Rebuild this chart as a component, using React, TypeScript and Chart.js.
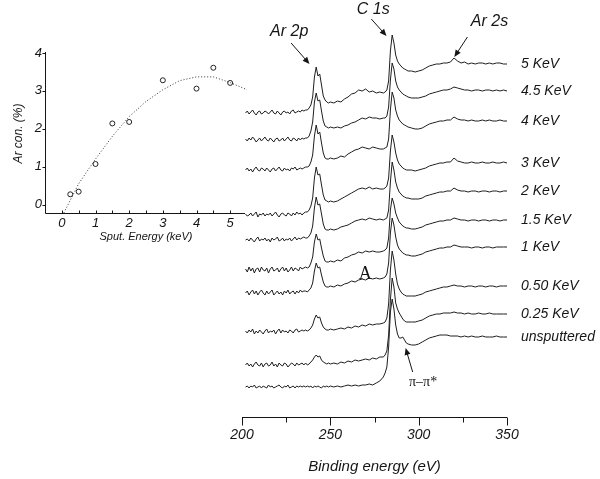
import React, { useEffect, useRef } from 'react';
import { Chart, registerables } from 'chart.js';

Chart.register(...registerables);

// ---------- main panel: XPS spectra (binding energy, eV) ----------
const bindingEnergy = [
  202, 203, 204, 205, 206, 207, 208, 209, 210, 211, 212, 213, 214, 215, 216, 217, 218, 219,
  220, 221, 222, 223, 224, 225, 226, 227, 228, 229, 230, 231, 232, 233, 234, 235, 236,
  237, 238, 239, 240, 241, 242, 243, 244, 245, 246, 247, 248, 249, 250,
  252, 254, 256, 258, 260, 262, 264, 266, 268, 270, 272, 274, 276, 278, 280,
  281, 282, 283, 284, 285, 286, 287, 288, 289, 290, 291, 292, 293, 294,
  296, 298, 300, 302, 304, 306, 308, 310, 312, 314, 316, 318, 320, 322, 324, 326, 328, 330,
  332, 334, 336, 338, 340, 342, 344, 346, 348, 350,
];

// intensities (arb. units) relative to each spectrum's own low-energy baseline
const spec5keV = [
  0, 2, -1, 1, 3, 0, -2, 1, 2, -1, 0, 2, 1, -1, 1, 3, 0, -1, 2, 0, -2, 1, 2, 0, 1, -1, 2, 3, 0, 1, 2, 1, 3, 2, 3,
  3, 5, 8, 16, 36, 46, 37, 39, 28, 17, 13, 11, 10, 11,
  10, 12, 11, 14, 16, 19, 20, 23, 22, 24, 21, 22, 20, 21, 20,
  21, 23, 32, 62, 78, 70, 58, 52, 49, 47, 45, 44, 43, 42,
  42, 41, 42, 43, 45, 47, 48, 49, 49, 50, 50, 51, 55, 52, 50, 51, 49, 50, 49, 50, 50, 49, 50, 49, 50, 50, 49, 49,
];
const spec4_5keV = [
  1, -1, 2, 0, 3, 1, -2, 0, 2, -1, 1, 3, 0, -1, 2, 0, -2, 1, 2, -1, 0, 2, -1, 1, 3, 0, -1, 2, 1, -1, 2, 0, 2, 1, 2,
  2, 4, 9, 18, 38, 47, 39, 40, 29, 19, 14, 13, 12, 13,
  12, 13, 12, 14, 15, 17, 18, 20, 22, 21, 23, 22, 22, 21, 22,
  22, 24, 33, 60, 77, 71, 59, 53, 50, 48, 46, 45, 44, 43,
  42, 42, 42, 43, 44, 46, 47, 48, 49, 50, 50, 51, 53, 52, 51, 50, 50, 49, 50, 50, 49, 50, 50, 49, 50, 49, 50, 49,
];
const spec4keV = [
  0, 2, -1, 1, -2, 1, 3, 0, -1, 2, 1, -1, 2, 0, -2, 1, 2, -1, 1, 3, 0, -1, 2, 0, 1, -1, 2, 1, 3, 0, 1, 2, 1, 2, 3,
  3, 4, 8, 15, 34, 45, 36, 38, 27, 17, 12, 11, 11, 12,
  11, 12, 14, 13, 16, 18, 20, 21, 23, 22, 21, 23, 22, 21, 21,
  22, 23, 31, 60, 78, 72, 60, 54, 50, 48, 46, 45, 44, 43,
  42, 41, 41, 42, 44, 46, 47, 48, 49, 49, 50, 50, 53, 51, 50, 50, 49, 50, 49, 49, 50, 49, 50, 49, 49, 50, 49, 49,
];
const spec3keV = [
  1, -1, 0, 2, -1, 1, 3, -2, 1, 0, 2, -1, 1, 0, 2, -1, 1, 3, 0, -2, 1, 2, 0, -1, 2, 1, -1, 2, 0, 3, 1, 2, 0, 2, 3,
  3, 5, 9, 17, 37, 48, 40, 41, 30, 20, 15, 14, 13, 14,
  13, 14, 16, 18, 20, 22, 24, 26, 27, 26, 28, 26, 27, 26, 26,
  27, 29, 37, 64, 80, 73, 62, 55, 51, 49, 47, 46, 45, 45,
  45, 44, 45, 46, 47, 49, 50, 51, 52, 52, 53, 53, 57, 54, 53, 52, 52, 53, 52, 52, 53, 52, 52, 53, 52, 52, 53, 52,
];
const spec2keV = [
  0, 1, -1, 2, 0, -2, 1, 3, -1, 1, 0, 2, -1, 1, -2, 2, 0, 1, 3, -1, 0, 2, -1, 1, 0, 2, -1, 1, 3, 0, 2, 1, 2, 3, 2,
  2, 4, 7, 14, 32, 43, 35, 36, 26, 16, 11, 10, 10, 11,
  10, 11, 13, 14, 15, 17, 19, 20, 21, 20, 22, 21, 20, 21, 20,
  21, 22, 30, 58, 78, 70, 58, 52, 48, 46, 44, 43, 42, 42,
  41, 41, 41, 42, 44, 45, 46, 47, 48, 48, 49, 49, 52, 50, 49, 49, 48, 49, 49, 48, 49, 49, 48, 49, 49, 48, 49, 49,
];
const spec1_5keV = [
  1, -2, 3, -1, 2, -3, 1, 2, -2, 3, 0, -1, 2, -3, 1, 3, -1, 0, 2, -2, 1, 3, -1, 2, -2, 0, 3, -1, 2, 1, -1, 3, 1, 2, 3,
  2, 3, 7, 13, 28, 36, 30, 31, 22, 14, 9, 8, 8, 9,
  8, 10, 9, 12, 13, 15, 16, 18, 17, 19, 18, 19, 18, 18, 19,
  20, 22, 32, 60, 72, 66, 57, 52, 48, 46, 44, 43, 42, 42,
  41, 41, 42, 43, 45, 46, 47, 48, 49, 49, 50, 50, 52, 51, 50, 50, 49, 50, 50, 49, 50, 50, 49, 50, 50, 49, 50, 50,
];
const spec1keV = [
  0, 2, -2, 1, 3, -1, 2, -2, 1, 3, 0, -2, 2, -1, 1, 3, -2, 0, 2, -1, 1, -2, 2, 0, 3, -1, 1, 2, -1, 2, 0, 3, 1, 2, 2,
  1, 3, 5, 10, 22, 30, 25, 26, 18, 11, 7, 6, 6, 7,
  6, 8, 7, 9, 10, 12, 11, 13, 14, 13, 15, 14, 15, 14, 15,
  16, 19, 30, 60, 75, 68, 56, 48, 44, 42, 40, 39, 38, 38,
  37, 37, 38, 39, 41, 42, 43, 44, 45, 45, 46, 46, 48, 47, 46, 46, 46, 45, 46, 46, 45, 46, 46, 45, 46, 46, 46, 46,
];
const spec0_50keV = [
  1, -1, 2, 0, 3, -2, 1, -1, 2, 0, -2, 1, 3, -1, 1, 0, 2, -2, 1, 3, -1, 2, 0, 1, -1, 2, 1, -1, 2, 3, 0, 1, 2, 1, 2,
  1, 2, 4, 7, 13, 17, 14, 15, 9, 5, 3, 2, 2, 3,
  2, 3, 4, 3, 5, 4, 6, 5, 7, 6, 8, 7, 8, 8, 9,
  10, 14, 28, 62, 81, 72, 58, 48, 43, 40, 38, 37, 36, 36,
  36, 36, 37, 38, 40, 41, 42, 43, 44, 45, 45, 46, 47, 46, 46, 45, 46, 46, 45, 46, 46, 45, 46, 46, 45, 46, 46, 46,
];
const spec0_25keV = [
  0, 2, -1, 1, -2, 1, 3, 0, -1, 2, -2, 1, 2, -1, 0, 3, -1, 1, -2, 2, 0, -1, 2, 1, -2, 0, 2, 1, -1, 2, 0, 1, 2, 0, 2,
  0, 1, 3, 5, 8, 10, 8, 9, 5, 3, 2, 1, 2, 1,
  2, 1, 3, 2, 4, 3, 5, 4, 5, 6, 5, 7, 6, 8, 8,
  10, 14, 30, 65, 87, 78, 62, 56, 52, 49, 46, 44, 43, 43,
  43, 43, 44, 45, 47, 49, 50, 51, 51, 52, 52, 52, 53, 52, 52, 51, 52, 51, 51, 52, 51, 51, 52, 51, 51, 51, 51, 51,
];
const specUnsputtered = [
  0, 1, -1, 1, 0, 2, -1, 0, 1, -1, 1, 0, -1, 2, 0, 1, -1, 0, 1, 2, 0, -1, 1, 0, 2, -1, 0, 1, -1, 1, 0, 1, 0, 1, 0,
  1, 0, 1, -1, 1, 0, 1, 0, -1, 1, 0, 1, 0, 1,
  0, 1, 0, 1, 2, 1, 2, 1, 2, 2, 3, 2, 4, 6, 10,
  14, 20, 40, 75, 88, 78, 62, 53, 49, 49, 50, 47, 44, 43,
  42, 42, 43, 45, 47, 49, 50, 51, 52, 52, 52, 51, 51, 51, 50, 51, 50, 51, 50, 50, 51, 50, 50, 50, 51, 50, 50, 50,
];

const spectra = [
  spec5keV, spec4_5keV, spec4keV, spec3keV, spec2keV,
  spec1_5keV, spec1keV, spec0_50keV, spec0_25keV, specUnsputtered,
];
const stackOffsets = [304, 277, 247, 202, 177, 147, 124, 85, 52, 30];
const sampleLabels = [
  '5 KeV', '4.5 KeV', '4 KeV', '3 KeV', '2 KeV',
  '1.5 KeV', '1 KeV', '0.50 KeV', '0.25 KeV', 'unsputtered',
];
const energyTicks = [200, 250, 300, 350];
const energyMinorStep = 25;

// ---------- inset: Ar concentration vs sputtering energy ----------
const sputEnergy = [0.25, 0.5, 1, 1.5, 2, 3, 4, 4.5, 5];
const arContent = [0.27, 0.34, 1.07, 2.14, 2.18, 3.28, 3.06, 3.61, 3.21];
const fitEnergy = [0.06, 0.5, 1, 1.5, 2, 2.5, 3, 3.5, 4, 4.5, 5, 5.5];
const fitContent = [-0.22, 0.55, 1.2, 1.8, 2.32, 2.72, 3.03, 3.27, 3.37, 3.37, 3.22, 3.03];
const insetXTicks = [0, 1, 2, 3, 4, 5];
const insetYTicks = [0, 1, 2, 3, 4];

const SANS = "'Liberation Sans', Arial, Helvetica, sans-serif";
const SERIF = "'Liberation Serif', 'Times New Roman', serif";
const INK = '#151515';

type Note = { text: string; font: string; tx: number; ty: number; arrow?: [number, number, number, number] };
// annotation anchors in data coordinates (eV, stacked intensity)
const notes: Note[] = [
  { text: 'Ar 2p', font: `italic 16px ${SANS}`, tx: 226.7, ty: 385, arrow: [227.8, 374, 238.2, 353] },
  { text: 'C 1s', font: `italic 16px ${SANS}`, tx: 274.3, ty: 407, arrow: [273.2, 398, 281.8, 381] },
  { text: 'Ar 2s', font: `italic 16px ${SANS}`, tx: 340.1, ty: 395, arrow: [327.6, 380, 320.2, 360] },
  { text: 'A', font: `18px ${SERIF}`, tx: 269.8, ty: 143 },
  { text: 'π–π*', font: `14px ${SERIF}`, tx: 302.5, ty: 35, arrow: [296.6, 45, 292.6, 69] },
];

function drawArrow(ctx: CanvasRenderingContext2D, x1: number, y1: number, x2: number, y2: number) {
  const a = Math.atan2(y2 - y1, x2 - x1);
  const L = 7, W = 3;
  ctx.beginPath();
  ctx.moveTo(x1, y1);
  ctx.lineTo(x2 - (L - 1) * Math.cos(a), y2 - (L - 1) * Math.sin(a));
  ctx.stroke();
  ctx.beginPath();
  ctx.moveTo(x2, y2);
  ctx.lineTo(x2 - L * Math.cos(a) + W * Math.sin(a), y2 - L * Math.sin(a) - W * Math.cos(a));
  ctx.lineTo(x2 - L * Math.cos(a) - W * Math.sin(a), y2 - L * Math.sin(a) + W * Math.cos(a));
  ctx.closePath();
  ctx.fill();
}

const mainDecor = {
  id: 'mainDecor',
  afterDraw(chart: any) {
    const { ctx, chartArea, scales } = chart;
    const x = scales.x, y = scales.y;
    ctx.save();
    ctx.strokeStyle = INK;
    ctx.fillStyle = INK;
    ctx.lineWidth = 1;
    // axis line + ticks
    const ay = Math.round(chartArea.bottom) + 0.5;
    const x0 = x.getPixelForValue(energyTicks[0]);
    const x1 = x.getPixelForValue(energyTicks[energyTicks.length - 1]);
    ctx.beginPath();
    ctx.moveTo(x0, ay);
    ctx.lineTo(x1, ay);
    for (let e = energyTicks[0]; e <= energyTicks[energyTicks.length - 1]; e += energyMinorStep) {
      const px = Math.round(x.getPixelForValue(e)) + 0.5;
      const len = energyTicks.includes(e) ? 8 : 5;
      ctx.moveTo(px, ay);
      ctx.lineTo(px, ay + len);
    }
    ctx.stroke();
    // sample labels at right end of each trace
    ctx.font = `italic 14px ${SANS}`;
    ctx.textAlign = 'left';
    ctx.textBaseline = 'middle';
    spectra.forEach((s, i) => {
      const py = y.getPixelForValue(stackOffsets[i] + s[s.length - 1]);
      ctx.fillText(sampleLabels[i], chartArea.right + 14, py);
    });
    // peak annotations
    ctx.textAlign = 'center';
    notes.forEach((n) => {
      ctx.font = n.font;
      ctx.fillText(n.text, x.getPixelForValue(n.tx), y.getPixelForValue(n.ty));
      if (n.arrow) {
        const [ax1, ay1, ax2, ay2] = n.arrow;
        drawArrow(ctx, x.getPixelForValue(ax1), y.getPixelForValue(ay1), x.getPixelForValue(ax2), y.getPixelForValue(ay2));
      }
    });
    ctx.restore();
  },
};

const insetDecor = {
  id: 'insetDecor',
  afterDraw(chart: any) {
    const { ctx, chartArea, scales } = chart;
    const x = scales.x, y = scales.y;
    ctx.save();
    ctx.strokeStyle = INK;
    ctx.lineWidth = 1;
    const lx = Math.round(chartArea.left) + 0.5;
    const by = Math.round(chartArea.bottom) - 0.5;
    ctx.beginPath();
    ctx.moveTo(lx, chartArea.top - 1);
    ctx.lineTo(lx, by);
    ctx.lineTo(chartArea.right - 2, by);
    insetYTicks.forEach((v) => {
      const py = Math.round(y.getPixelForValue(v)) + 0.5;
      ctx.moveTo(lx, py);
      ctx.lineTo(lx - 3, py);
    });
    for (let k = 0; k <= 10; k++) {
      const px = Math.round(x.getPixelForValue(k * 0.5)) + 0.5;
      ctx.moveTo(px, by);
      ctx.lineTo(px, by - 3);
    }
    ctx.stroke();
    ctx.restore();
  },
};

export default function App() {
  const mainRef = useRef<HTMLCanvasElement>(null);
  const insetRef = useRef<HTMLCanvasElement>(null);

  useEffect(() => {
    const tickFont = (size: number) => ({ family: SANS, size, style: 'italic' as const });

    const main = new Chart(mainRef.current as HTMLCanvasElement, {
      type: 'line',
      data: {
        datasets: spectra.map((s, i) => ({
          data: s.map((v, j) => ({ x: bindingEnergy[j], y: stackOffsets[i] + v })),
          borderColor: '#1e1e1e',
          borderWidth: 1,
          pointRadius: 0,
          tension: 0,
          fill: false,
        })),
      },
      options: {
        animation: false,
        responsive: false,
        devicePixelRatio: 1,
        events: [],
        layout: { padding: { left: 242, right: 93, top: 17, bottom: 0 } },
        plugins: { legend: { display: false }, tooltip: { enabled: false } },
        scales: {
          x: {
            type: 'linear',
            min: 200,
            max: 350,
            afterFit: (s: any) => { s.height = 62; },
            afterBuildTicks: (s: any) => { s.ticks = energyTicks.map((v) => ({ value: v })); },
            grid: { display: false, drawTicks: false, tickLength: 0 },
            border: { display: false },
            ticks: { padding: 10, maxRotation: 0, autoSkip: false, color: INK, font: tickFont(14) },
            title: {
              display: true,
              text: 'Binding energy (eV)',
              color: INK,
              font: { family: SANS, size: 15, style: 'italic' },
              padding: { top: 0, bottom: 3 },
            },
          },
          y: { type: 'linear', display: false, min: 0, max: 400 },
        },
      } as any,
      plugins: [mainDecor],
    });

    const inset = new Chart(insetRef.current as HTMLCanvasElement, {
      type: 'scatter',
      data: {
        datasets: [
          {
            data: fitEnergy.map((e, i) => ({ x: e, y: fitContent[i] })),
            showLine: true,
            borderColor: '#333333',
            borderWidth: 1,
            borderDash: [1, 2],
            pointRadius: 0,
          },
          {
            data: sputEnergy.map((e, i) => ({ x: e, y: arContent[i] })),
            showLine: false,
            pointRadius: 2.5,
            pointBorderWidth: 1,
            pointBorderColor: '#222222',
            pointBackgroundColor: '#ffffff',
          },
        ],
      },
      options: {
        animation: false,
        responsive: false,
        devicePixelRatio: 1,
        events: [],
        layout: { padding: { left: 0, right: 13, top: 53, bottom: 0 } },
        plugins: { legend: { display: false }, tooltip: { enabled: false } },
        scales: {
          x: {
            type: 'linear',
            min: -0.5,
            max: 5.5,
            afterFit: (s: any) => { s.height = 36; },
            afterBuildTicks: (s: any) => { s.ticks = insetXTicks.map((v) => ({ value: v })); },
            grid: { display: false, drawTicks: false, tickLength: 0 },
            border: { display: false },
            ticks: { padding: 2, maxRotation: 0, autoSkip: false, color: INK, font: tickFont(13) },
            title: {
              display: true,
              text: 'Sput. Energy (keV)',
              color: INK,
              font: { family: SANS, size: 11, style: 'italic' },
              padding: { top: 0, bottom: 6 },
            },
          },
          y: {
            type: 'linear',
            min: -0.25,
            max: 4,
            afterFit: (s: any) => { s.width = 45; },
            afterBuildTicks: (s: any) => { s.ticks = insetYTicks.map((v) => ({ value: v })); },
            grid: { display: false, drawTicks: false, tickLength: 0 },
            border: { display: false },
            ticks: { padding: 3, color: INK, font: tickFont(13) },
            title: {
              display: true,
              text: 'Ar con. (%)',
              color: INK,
              font: { family: SANS, size: 12, style: 'italic' },
              padding: { top: 11, bottom: 0 },
            },
          },
        },
      } as any,
      plugins: [insetDecor],
    });

    return () => {
      main.destroy();
      inset.destroy();
    };
  }, []);

  return (
    <div style={{ position: 'fixed', left: 0, top: 0, width: 600, height: 479, background: '#fff' }}>
      <canvas ref={mainRef} width={600} height={479} style={{ position: 'absolute', left: 0, top: 0, width: 600, height: 479 }} />
      <canvas ref={insetRef} width={260} height={250} style={{ position: 'absolute', left: 0, top: 0, width: 260, height: 250 }} />
    </div>
  );
}
